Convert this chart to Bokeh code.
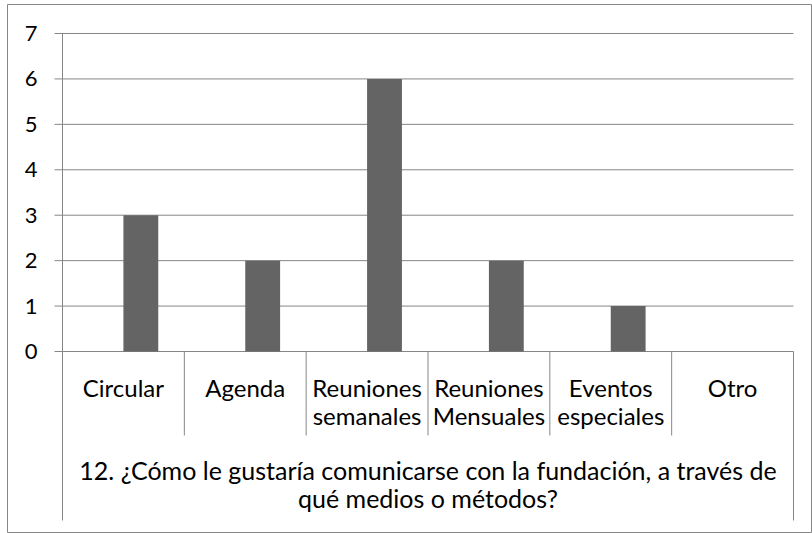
from bokeh.plotting import figure
from bokeh.models import Range1d, ColumnDataSource
from bokeh.core.properties import value
from bokeh.embed import file_html
from bokeh.resources import INLINE

# ---- data ----
categories = ["Circular", "Agenda", "Reuniones\nsemanales", "Reuniones\nMensuales",
              "Eventos\nespeciales", "Otro"]
counts = [3, 2, 6, 2, 1, 0]
y_ticks = [0, 1, 2, 3, 4, 5, 6, 7]
axis_title = "12. ¿Cómo le gustaría comunicarse con la fundación, a través de\nqué medios o métodos?"

# ---- layout constants ----
W, H = 812, 533
PX_X = 121.83                   # pixels per category
PX_Y = 45.43                    # pixels per unit on y
GRID = "#868686"
FONT = "Lato"
ncat = len(categories)
y_max = y_ticks[-1]

x_start = -55 / PX_X
x_end = ncat + 18 / PX_X
y_start = -181 / PX_Y
y_end = y_max + 29 / PX_Y
low_end = -169 / PX_Y           # bottom of the category box lines
sep_end = -84 / PX_Y            # bottom of the inner separators
tick_len = 8 / PX_X

p = figure(width=W, height=H, output_backend="svg", toolbar_location=None,
           x_range=Range1d(x_start, x_end), y_range=Range1d(y_start, y_end),
           x_axis_location=None, y_axis_location=None,
           min_border_left=7, min_border_top=4, min_border_right=1, min_border_bottom=1)
p.outline_line_color = GRID
p.outline_line_width = 1
p.background_fill_color = "white"
p.border_fill_color = "white"
p.xgrid.visible = False
p.ygrid.visible = False

# horizontal gridlines + tick marks
nt = len(y_ticks)
p.segment(x0=[-tick_len] * nt, x1=[ncat] * nt, y0=y_ticks, y1=y_ticks,
          line_color=GRID, line_width=1)
# y tick labels
p.text(x=[0] * nt, y=y_ticks, text=[str(t) for t in y_ticks], x_offset=-25,
       text_align="right", text_baseline="middle", text_font=value(FONT),
       text_font_size="22px", text_color="black")

# vertical axis line and right box edge
p.segment(x0=[0, ncat], x1=[0, ncat], y0=[y_max, 0], y1=[low_end, low_end],
          line_color=GRID, line_width=1)
# category separators
sep_x = list(range(1, ncat))
p.segment(x0=sep_x, x1=sep_x, y0=[0] * len(sep_x), y1=[sep_end] * len(sep_x),
          line_color=GRID, line_width=1)

# bars (second series slot of a two-series cluster)
centers = [i + 0.5 for i in range(ncat)]
src = ColumnDataSource(dict(x=[c + 0.143 for c in centers], n=counts))
p.vbar(x="x", top="n", width=0.286, source=src, fill_color="#646464", line_color=None)

# category labels
first = [c.split("\n")[0] for c in categories]
second = [c.split("\n")[1] if "\n" in c else "" for c in categories]
for txt, off in ((first, 36), (second, 64)):
    p.text(x=centers, y=[0] * ncat, text=txt, y_offset=off, text_align="center",
           text_baseline="alphabetic", text_font=value(FONT), text_font_size="24px",
           text_color="black")

# group title
for i, line in enumerate(axis_title.split("\n")):
    p.text(x=[ncat / 2], y=[0], text=[line], y_offset=118 + 28 * i, text_align="center",
           text_baseline="alphabetic", text_font=value(FONT), text_font_size="25px",
           text_color="black")

open("out.html", "w").write(file_html(p, INLINE))
